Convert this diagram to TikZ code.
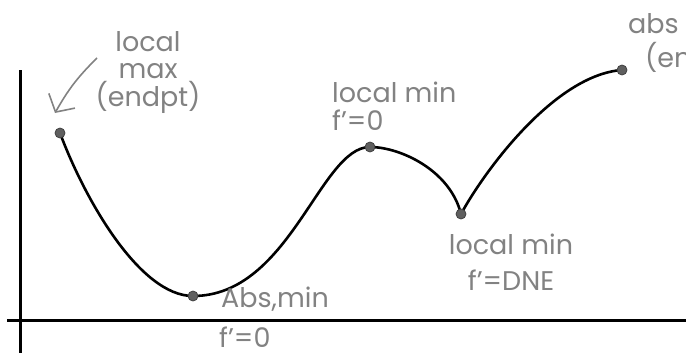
\documentclass[tikz,border=0pt]{standalone}
\usepackage{fontspec}
\setmainfont{Poppins}
\usepackage{xcolor}
\usetikzlibrary{arrows.meta}
\definecolor{pencil}{RGB}{130,130,130}
\definecolor{dotcol}{RGB}{95,95,95}

\begin{document}
\begin{tikzpicture}[x=1pt, y=-1pt,
    font=\fontsize{27}{27.5}\selectfont,
    lbl/.style={text=pencil, inner sep=0pt},
    dot/.style={circle, fill=dotcol, draw=black!75, line width=0.8pt,
                minimum size=10pt, inner sep=0pt}]
  \useasboundingbox (0,0) rectangle (686,356);
  \clip (0,0) rectangle (686,356);

  % axes
  \draw[line width=3pt] (20,70) -- (20,353);
  \draw[line width=3pt] (7,320) -- (686,320);

  % points on the graph
  \coordinate (endL)   at (60,133);
  \coordinate (absmin) at (193,296);
  \coordinate (peak)   at (370,147);
  \coordinate (cusp)   at (461,214);
  \coordinate (endR)   at (622,70);

  \draw[line width=2.6pt, line join=round]
    (endL) .. controls (85,200) and (140,296) .. (absmin)
           .. controls (290,296) and (320,147) .. (peak)
           .. controls (400,147) and (450,170) .. (cusp)
           .. controls (485,170) and (555,75) .. (endR);

  \foreach \p in {endL, absmin, peak, cusp, endR}
    \node[dot] (dot-\p) at (\p) {};

  % labels
  \node[lbl, anchor=north, align=center] (lmax) at (148,31)
    {local\\max\\(endpt)};
  \node[lbl, anchor=north west, align=left] (lminpeak) at (332,82)
    {local min\\f'=0};
  \node[lbl, anchor=north west] (absminlbl) at (221,287) {Abs,min};
  \node[lbl, anchor=north west] (absminder) at (219,327) {f'=0};
  \node[lbl, anchor=north, align=center] (lmincusp) at (511,234)
    {local min\\[8pt]f'=DNE};
  \node[lbl, anchor=north west] (absmax) at (628,13) {abs};
  \node[lbl, anchor=north west] (absmaxnote) at (645,42) {(en};

  % arrow to the left endpoint
  \coordinate (arrtail) at (97,58);
  \coordinate (arrtip)  at (55,113);
  \draw[pencil, line width=1.6pt, -{Straight Barb[length=13pt, width=30pt]}]
    (arrtail) to[bend right=8] (arrtip);
\end{tikzpicture}
\end{document}
